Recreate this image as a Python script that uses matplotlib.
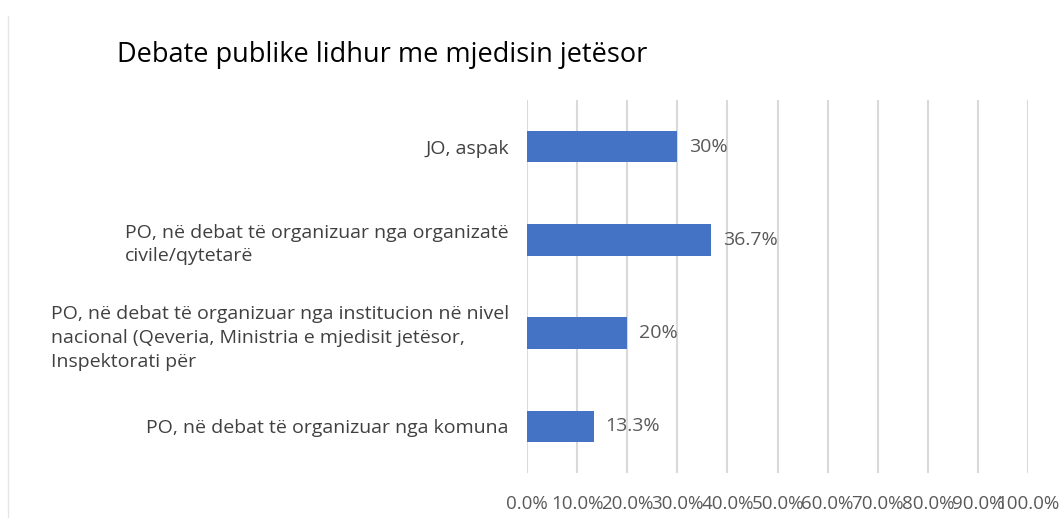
import matplotlib.pyplot as plt
from matplotlib.lines import Line2D

categories = [
    "PO, në debat të organizuar nga komuna",
    "PO, në debat të organizuar nga institucion në nivel\nnacional (Qeveria, Ministria e mjedisit jetësor,\nInspektorati për",
    "PO, në debat të organizuar nga organizatë\ncivile/qytetarë",
    "JO, aspak",
]
values = [13.3, 20, 36.7, 30]
value_labels = ["13.3%", "20%", "36.7%", "30%"]
xticks = [0, 10, 20, 30, 40, 50, 60, 70, 80, 90, 100]

plt.rcParams['font.family'] = ['Open Sans', 'DejaVu Sans']

fig = plt.figure(figsize=(10.64, 5.18), dpi=100)
ax = fig.add_axes([0.4953, 0.0869, 0.4709, 0.7201])

ypos = range(len(categories))
ax.barh(ypos, values, height=0.34, color="#4472C4", zorder=3)

for y, v, lab in zip(ypos, values, value_labels):
    ax.text(v + 2.4, y, lab, va="center", ha="left", fontsize=14, color="#595959")

ax.set_xlim(0, 100)
ax.set_ylim(-0.5, 3.5)
ax.set_xticks(xticks)
ax.set_xticklabels([f"{t:.1f}%" for t in xticks], fontsize=13.5, color="#595959")
ax.set_yticks(list(ypos))
ax.set_yticklabels(categories, fontsize=14, color="#404040",
                   multialignment="left", linespacing=1.4)
ax.tick_params(axis="both", length=0)
ax.tick_params(axis="x", pad=16)
ax.tick_params(axis="y", pad=13)

ax.grid(axis="x", color="#d9d9d9", linewidth=1.5, zorder=0)
for s in ax.spines.values():
    s.set_visible(False)

fig.text(0.11, 0.894, "Debate publike lidhur me mjedisin jetësor", fontsize=19.5,
         fontweight="medium", color="black", ha="left", va="center")

# faint chart border on the left
fig.add_artist(Line2D([0.0075, 0.0075], [0.0, 0.97], color="#e6e6e6", linewidth=1,
                      transform=fig.transFigure))

fig.savefig("out.png", dpi=100)
